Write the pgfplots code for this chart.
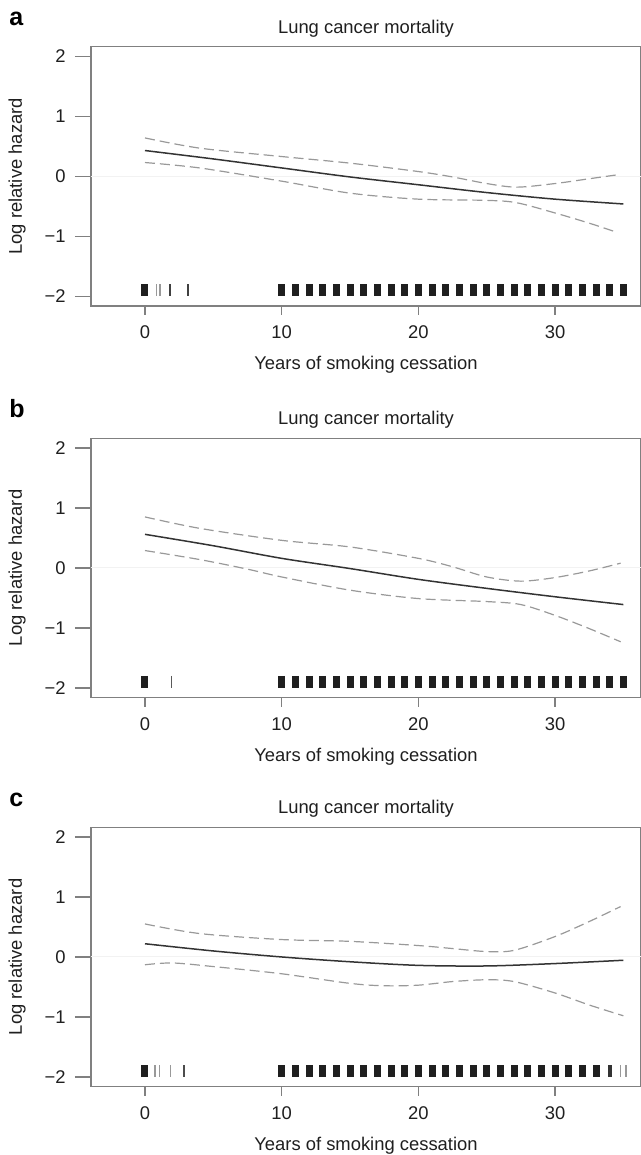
\documentclass[border=0pt]{standalone}
\usepackage{pgfplots}
\pgfplotsset{compat=1.18}
\usepackage{fontspec}
\setmainfont{Liberation Sans}
\definecolor{boxgray}{gray}{0.5}
\definecolor{txt}{gray}{0.12}
\definecolor{solidc}{gray}{0.2}
\definecolor{dashc}{gray}{0.6}
\definecolor{zeroc}{gray}{0.95}
\newcommand\fs{\fontsize{9.2pt}{11pt}\selectfont}
\newcommand\fl{\bfseries\fontsize{12.5pt}{14pt}\selectfont}

\pgfplotsset{
 rplot/.style={
  scale only axis, width=275pt, height=129.65pt,
  xmin=-3.95, xmax=36.29, ymin=-2.16, ymax=2.16,
  axis line style={draw=boxgray, line width=0.6pt},
  xtick={0,10,20,30}, xticklabels={0,10,20,30},
  ytick={-2,-1,0,1,2}, yticklabels={−2,−1,0,1,2},
  xtick pos=bottom, ytick pos=left,
  tick align=outside, major tick length=8pt,
  tick style={draw=boxgray, line width=0.6pt},
  x tick style={/pgfplots/major tick length=4.5pt},
  tick label style={font=\fs, text=txt, inner sep=0pt},
  xticklabel style={anchor=base},
  xticklabel shift=8.5pt,
  yticklabel style={anchor=east},
  yticklabel shift=4.5pt,
  every axis title shift=0pt,
  title={Lung cancer mortality},
  title style={at={(axis description cs:0.5,1.0528)}, anchor=base, font=\fs, text=txt, inner sep=0pt},
  xlabel={Years of smoking cessation},
  xlabel style={at={(axis description cs:0.5,-0.2468)}, anchor=base, font=\fs, text=txt, inner sep=0pt},
  ylabel={Log relative hazard},
  ylabel style={at={(axis description cs:-0.1255,0.5)}, anchor=base, rotate=0, font=\fs, text=txt, inner sep=0pt},
  clip mode=individual,
 },
 zero/.style={zeroc, line width=0.5pt, forget plot},
 solidline/.style={solidc, line width=0.75pt, smooth, no marks},
 ci/.style={dashc, line width=0.6pt, dash pattern=on 5pt off 2.5pt, smooth, no marks},
 rug/.style={only marks, mark=|, mark size=3pt, mark options={line width=3.5pt}},
 rugthin/.style={only marks, mark=|, mark size=3pt, mark options={line width=0.9pt}},
 ruggray/.style={only marks, mark=|, mark size=3pt, mark options={line width=0.8pt}},
}

\begin{document}
\begin{tikzpicture}
\path[use as bounding box] (0,0) rectangle (320.5pt,-577.5pt);

% ---------------- panel a ----------------
\begin{axis}[rplot, at={(45.5pt,-23.35pt)}, anchor=north west]
\addplot[zero] coordinates {(-3.95,0) (36.29,0)};
\addplot[solidline] coordinates {(0,0.43) (5,0.29) (10,0.14) (15,-0.01) (20,-0.14) (25,-0.27) (30,-0.38) (35,-0.46)};
\addplot[ci] coordinates {(0,0.64) (4,0.47) (10,0.33) (15,0.22) (20,0.08) (22.5,-0.01) (25,-0.12) (27.2,-0.18) (30,-0.12) (32.5,-0.04) (34.7,0.03)};
\addplot[ci] coordinates {(0,0.23) (4,0.14) (10,-0.08) (15,-0.28) (20,-0.38) (25,-0.40) (27.2,-0.44) (30,-0.61) (32.5,-0.78) (34.5,-0.93)};
\addplot[rug, black!88] coordinates {(0,-1.9) (10,-1.9) (11,-1.9) (12,-1.9) (13,-1.9) (14,-1.9) (15,-1.9) (16,-1.9) (17,-1.9) (18,-1.9) (19,-1.9) (20,-1.9) (21,-1.9) (22,-1.9) (23,-1.9) (24,-1.9) (25,-1.9) (26,-1.9) (27,-1.9) (28,-1.9) (29,-1.9) (30,-1.9) (31,-1.9) (32,-1.9) (33,-1.9) (34,-1.9) (35,-1.9)};
\addplot[ruggray, black!40] coordinates {(0.85,-1.9) (1.12,-1.9)};
\addplot[rugthin, black!75] coordinates {(1.83,-1.9) (3.17,-1.9)};
\node[anchor=base west, font=\fl, text=black, inner sep=0pt] at (axis description cs:-0.149,1.081) {a};
\end{axis}

% ---------------- panel b ----------------
\begin{axis}[rplot, at={(45.5pt,-219.15pt)}, anchor=north west]
\addplot[zero] coordinates {(-3.95,0) (36.29,0)};
\addplot[solidline] coordinates {(0,0.56) (5,0.37) (10,0.16) (15,-0.01) (20,-0.19) (25,-0.34) (30,-0.48) (35,-0.61)};
\addplot[ci] coordinates {(0,0.85) (4,0.66) (10,0.46) (15,0.35) (20,0.16) (22.5,0.02) (25,-0.15) (27.5,-0.22) (30,-0.16) (32.5,-0.05) (34.8,0.08)};
\addplot[ci] coordinates {(0,0.29) (4,0.14) (7.5,-0.02) (10,-0.15) (15,-0.37) (20,-0.51) (25,-0.56) (27.5,-0.61) (30,-0.79) (32.5,-1.01) (34.8,-1.23)};
\addplot[rug, black!88] coordinates {(0,-1.9) (10,-1.9) (11,-1.9) (12,-1.9) (13,-1.9) (14,-1.9) (15,-1.9) (16,-1.9) (17,-1.9) (18,-1.9) (19,-1.9) (20,-1.9) (21,-1.9) (22,-1.9) (23,-1.9) (24,-1.9) (25,-1.9) (26,-1.9) (27,-1.9) (28,-1.9) (29,-1.9) (30,-1.9) (31,-1.9) (32,-1.9) (33,-1.9) (34,-1.9) (35,-1.9)};
\addplot[rugthin, black!65] coordinates {(1.94,-1.9)};
\node[anchor=base west, font=\fl, text=black, inner sep=0pt] at (axis description cs:-0.149,1.081) {b};
\end{axis}

% ---------------- panel c ----------------
\begin{axis}[rplot, at={(45.5pt,-413.65pt)}, anchor=north west]
\addplot[zero] coordinates {(-3.95,0) (36.29,0)};
\addplot[solidline] coordinates {(0,0.22) (5,0.10) (10,0.0) (15,-0.08) (20,-0.14) (25,-0.15) (30,-0.11) (35,-0.055)};
\addplot[ci] coordinates {(0,0.55) (4,0.39) (10,0.29) (15,0.26) (20,0.19) (22.5,0.14) (25,0.09) (27,0.11) (30,0.34) (32.5,0.59) (34.8,0.84)};
\addplot[ci] coordinates {(0,-0.13) (2,-0.10) (5,-0.16) (10,-0.28) (15,-0.44) (17.5,-0.48) (20,-0.47) (22.5,-0.41) (25,-0.38) (27,-0.41) (30,-0.60) (32.5,-0.80) (35,-0.98)};
\addplot[rug, black!88] coordinates {(0,-1.9) (10,-1.9) (11,-1.9) (12,-1.9) (13,-1.9) (14,-1.9) (15,-1.9) (16,-1.9) (17,-1.9) (18,-1.9) (19,-1.9) (20,-1.9) (21,-1.9) (22,-1.9) (23,-1.9) (24,-1.9) (25,-1.9) (26,-1.9) (27,-1.9) (28,-1.9) (29,-1.9) (30,-1.9) (31,-1.9) (32,-1.9) (33,-1.9)};
\addplot[only marks, mark=|, mark size=3pt, mark options={line width=2pt}, black!80] coordinates {(34,-1.9)};
\addplot[ruggray, black!40] coordinates {(0.73,-1.9) (1.05,-1.9) (1.88,-1.9) (34.8,-1.9) (35.2,-1.9)};
\addplot[rugthin, black!70] coordinates {(2.85,-1.9)};
\node[anchor=base west, font=\fl, text=black, inner sep=0pt] at (axis description cs:-0.149,1.081) {c};
\end{axis}
\end{tikzpicture}
\end{document}
